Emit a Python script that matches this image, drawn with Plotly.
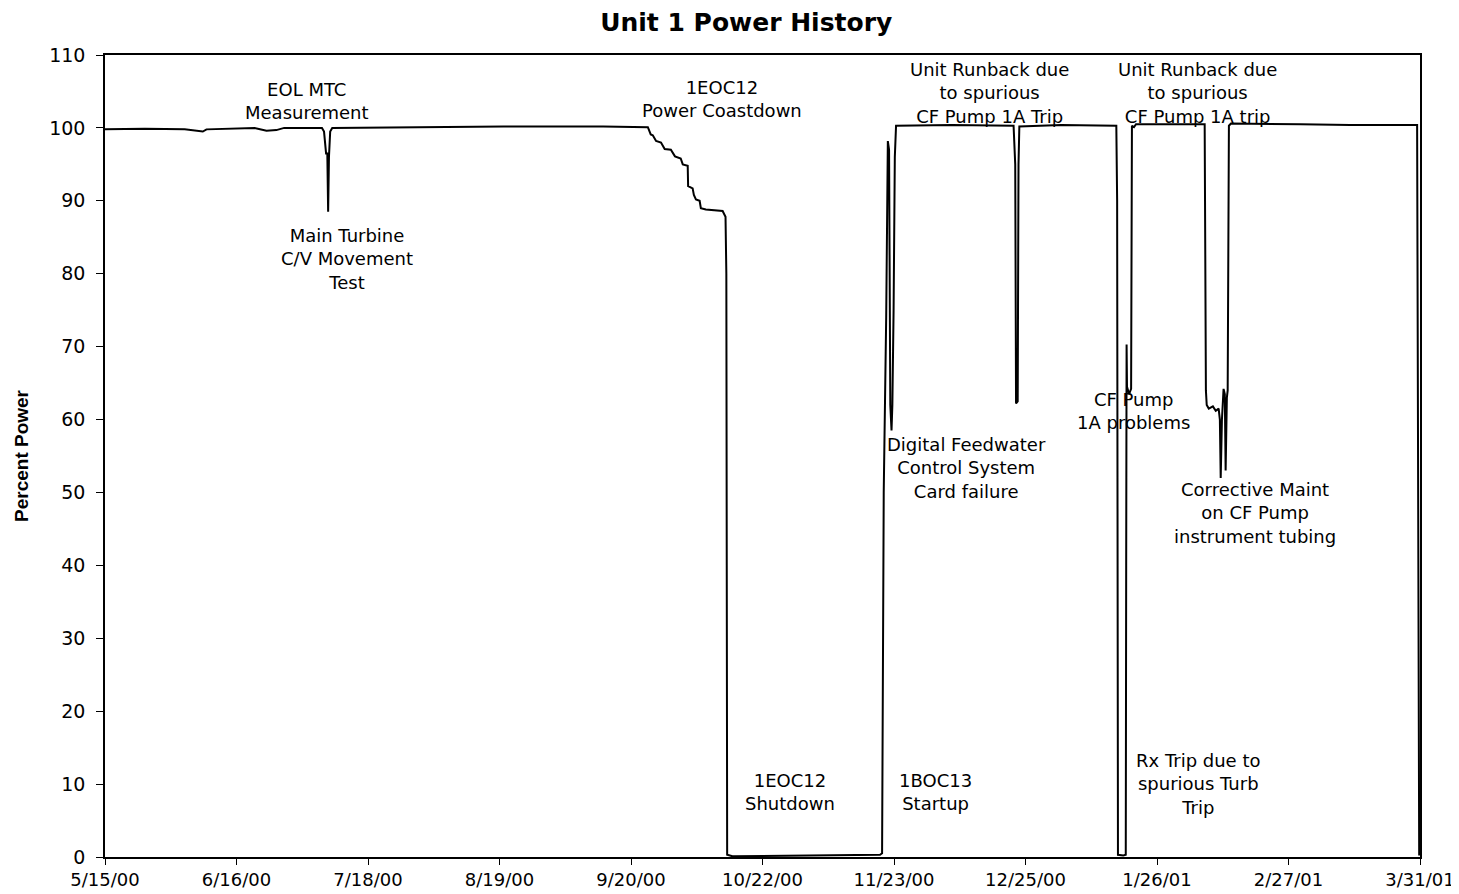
import pandas as pd
import plotly.graph_objects as go

START = "2000-05-15"

# days since 5/15/00 and reactor power (%)
day_offset = [0, 9.7, 19.4, 23.8, 24.7, 36.4, 39.3, 41.7, 43.6, 52.8, 53.3, 53.65, 53.8,
              54.1, 54.3, 54.5, 54.8, 55.3, 72.7, 97.0, 121.2, 132.1, 132.8, 133.3, 134.1,
              135.3, 136.2, 137.7, 138.7, 140.1, 140.6, 141.8, 141.9, 143.0, 143.3, 143.8,
              144.7, 145.0, 146.2, 150.3, 151.0, 151.2, 151.3, 151.4, 152.7, 169.7, 188.6,
              189.1, 189.5, 190.1, 190.5, 190.8, 191.1, 191.4, 191.6, 191.9, 192.2, 192.5,
              206.1, 221.1, 221.5, 221.7, 222.1, 222.3, 222.5, 232.7, 246.1, 246.3, 246.5,
              247.8, 248.4, 248.5, 248.6, 248.7, 249.2, 249.7, 249.9, 250.4, 250.9, 267.6,
              267.9, 268.1, 268.6, 269.6, 270.3, 271.0, 271.3, 271.5, 271.8, 272.2, 272.5,
              272.7, 273.0, 273.2, 273.5, 274.0, 290.9, 303.0, 319.3, 319.5, 319.8]
power_pct = [99.8, 99.9, 99.8, 99.5, 99.8, 100.0, 99.6, 99.7, 100.0, 100.0, 99.5, 97.5, 96.5,
             96.5, 88.5, 96.0, 99.5, 100.0, 100.1, 100.2, 100.2, 100.1, 99.1, 99.0, 98.2,
             98.0, 97.1, 97.0, 96.1, 95.8, 95.0, 94.8, 92.0, 91.7, 90.8, 90.2,
             90.0, 89.0, 88.8, 88.6, 87.8, 80.0, 40.0, 0.3, 0.1, 0.2, 0.3,
             0.5, 50.0, 74.0, 98.2, 97.0, 62.0, 58.5, 62.0, 75.0, 96.0, 100.3,
             100.4, 100.3, 95.0, 62.2, 62.5, 95.0, 100.2, 100.4, 100.3, 90.0, 0.3,
             0.2, 0.3, 40.0, 70.3, 64.5, 63.5, 64.2, 100.3, 100.1, 100.5, 100.5,
             64.0, 62.0, 61.5, 61.8, 61.2, 61.5, 60.0, 52.0, 60.0, 64.2, 63.5,
             53.0, 63.0, 64.0, 100.3, 100.6, 100.5, 100.4, 100.4, 50.0, 0.2]

tick_offsets = [0, 32, 64, 96, 128, 160, 192, 224, 256, 288, 320]
tick_labels = ["5/15/00", "6/16/00", "7/18/00", "8/19/00", "9/20/00", "10/22/00",
               "11/23/00", "12/25/00", "1/26/01", "2/27/01", "3/31/01"]

note_text = ["EOL MTC<br>Measurement",
             "Main Turbine<br>C/V Movement<br>Test",
             "1EOC12<br>Power Coastdown",
             "Unit Runback due<br>to spurious<br>CF Pump 1A Trip",
             "Unit Runback due<br>to spurious<br>CF Pump 1A trip",
             "Digital Feedwater<br>Control System<br>Card failure",
             "CF Pump<br>1A problems",
             "Corrective Maint<br>on CF Pump<br>instrument tubing",
             "1EOC12<br>Shutdown",
             "1BOC13<br>Startup",
             "Rx Trip due to<br>spurious Turb<br>Trip"]
note_day = [49.2, 58.9, 150.1, 215.3, 265.9, 209.7, 250.2, 279.8, 166.8, 202.2, 265.9]
note_pct = [103.7, 82.0, 104.0, 104.8, 104.8, 53.3, 61.2, 47.2, 8.9, 8.9, 10.0]


def to_date(d):
    return pd.Timestamp(START) + pd.to_timedelta(d, unit="D")


x_dates = [to_date(d) for d in day_offset]
FONT = "DejaVu Sans, sans-serif"

fig = go.Figure()
fig.add_trace(go.Scatter(x=x_dates, y=power_pct, mode="lines",
                         line=dict(color="black", width=2), showlegend=False,
                         hoverinfo="skip"))

for t, d, p in zip(note_text, note_day, note_pct):
    fig.add_annotation(x=to_date(d), y=p, text=t, showarrow=False,
                       xanchor="center", yanchor="middle", align="center",
                       font=dict(family=FONT, size=18, color="black"))

fig.update_layout(
    width=1459, height=894,
    margin=dict(l=93, r=44, t=47, b=40),
    paper_bgcolor="white", plot_bgcolor="white",
    title=dict(text="<b>Unit 1 Power History</b>", x=0.506, xanchor="center",
               y=0.984, yanchor="middle",
               font=dict(family=FONT, size=25, color="black")),
    xaxis=dict(range=[to_date(0), to_date(320)],
               tickvals=[to_date(d) for d in tick_offsets], ticktext=tick_labels,
               ticks="outside", ticklen=6, tickcolor="black", tickwidth=1.2,
               showline=True, linecolor="black", linewidth=1.5, mirror=True,
               showgrid=False, zeroline=False,
               tickfont=dict(family=FONT, size=18, color="black")),
    yaxis=dict(range=[0, 110], dtick=10, tick0=0,
               ticks="outside", ticklen=7, tickcolor="black", tickwidth=1.2,
               ticklabelstandoff=7,
               showline=True, linecolor="black", linewidth=1.5, mirror=True,
               showgrid=False, zeroline=False,
               tickfont=dict(family=FONT, size=19, color="black"),
               title=dict(text="<b>Percent Power</b>", standoff=16,
                          font=dict(family="Arial, Liberation Sans, sans-serif",
                                    size=19, color="black"))),
)

fig.write_html("out.html")
